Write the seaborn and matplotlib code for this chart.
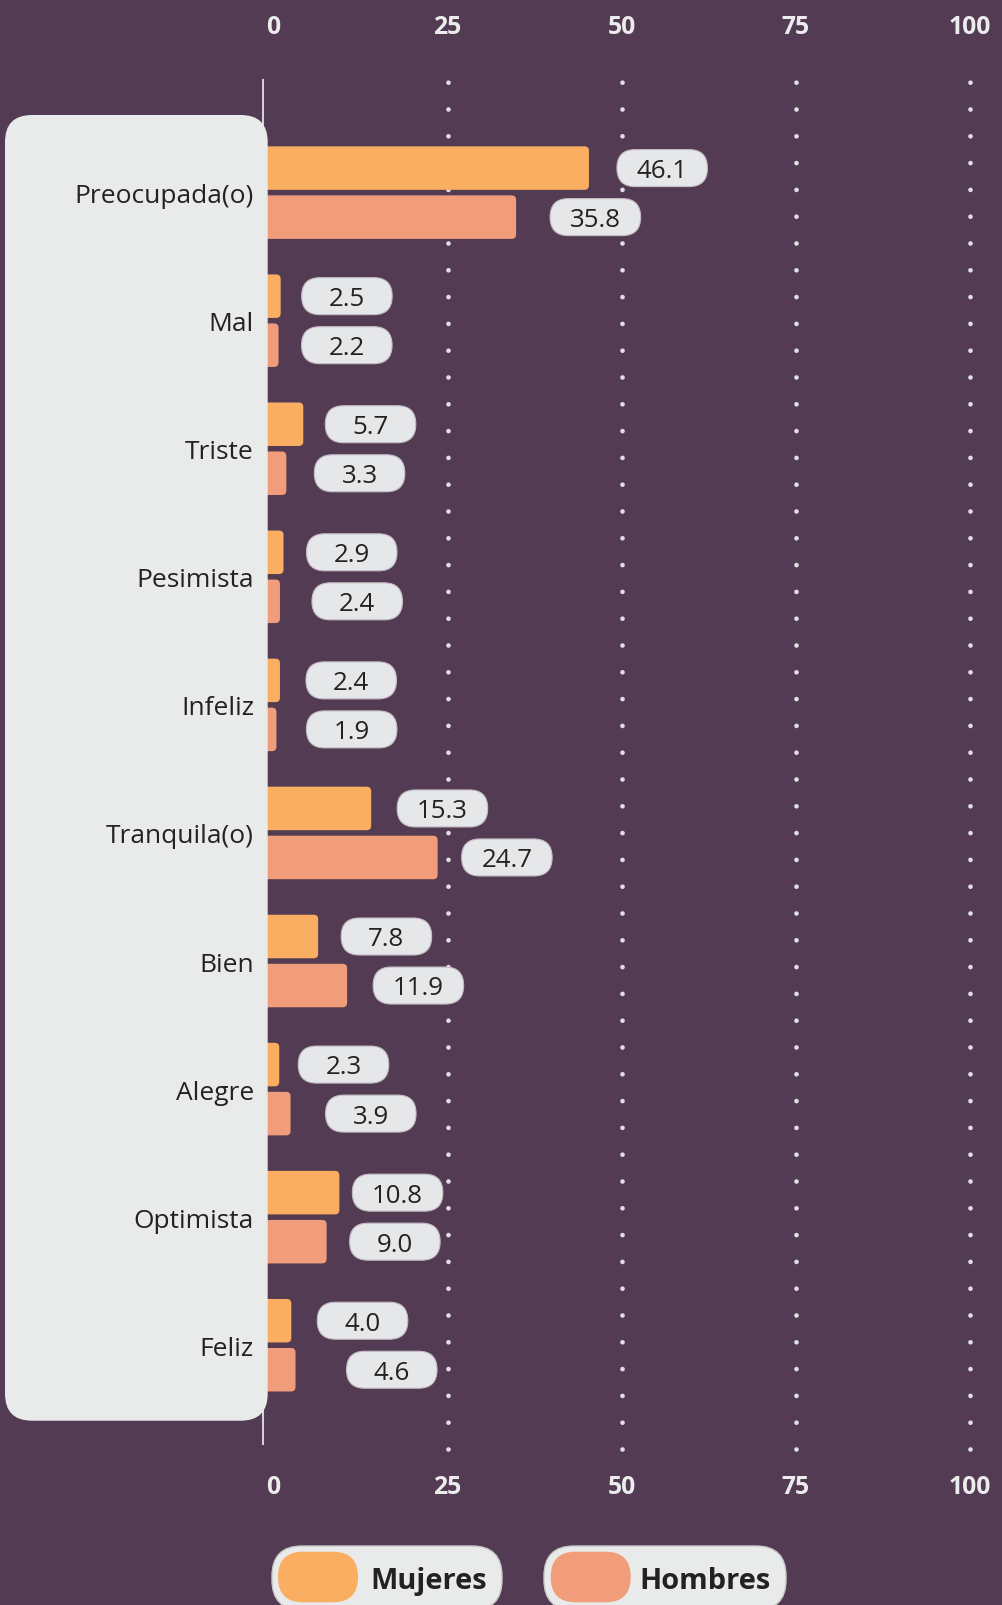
import matplotlib
matplotlib.use("Agg")
import matplotlib.pyplot as plt
import pandas as pd
import seaborn as sns
from matplotlib.patches import FancyBboxPatch
from matplotlib.transforms import Affine2D, ScaledTranslation, blended_transform_factory

# ---------------------------------------------------------------- data
categorias = ["Preocupada(o)", "Mal", "Triste", "Pesimista", "Infeliz",
              "Tranquila(o)", "Bien", "Alegre", "Optimista", "Feliz"]
mujeres = [46.1, 2.5, 5.7, 2.9, 2.4, 15.3, 7.8, 2.3, 10.8, 4.0]
hombres = [35.8, 2.2, 3.3, 2.4, 1.9, 24.7, 11.9, 3.9, 9.0, 4.6]
series = ["Mujeres", "Hombres"]
ticks = [0, 25, 50, 75, 100]

# gap (px) between the end of each bar and its value pill
gap_mujeres = [28, 21, 22, 23, 26, 26, 23, 19, 13, 26]
gap_hombres = [34, 23, 28, 32, 30, 24, 26, 35, 23, 51]

# ---------------------------------------------------------------- style
BG = "#533c53"
PANEL = "#e9ebea"
PILL = "#e6e7e9"
PILL_EDGE = "#c4bcc4"
ORANGE = "#faae62"
SALMON = "#f19d7b"
DOT = "#e2dfe2"
TICK_C = "#ececec"
TXT = "#222222"

W, H = 1002, 1606
X0_PX, X100_PX = 263.0, 970.0          # bar scale: value 0 and 100
PXU = (X100_PX - X0_PX) / 100.0          # px per value unit
T0_PX = 273.5                            # tick scale starts slightly right
ROW0, ROW_STEP = 193.6, 128.07           # category centres (px from top)
DOT_STEP_PX = 26.8                       # spacing of the grid dots
DOT_LW = 3.4                             # dot diameter in points

sns.set_theme(style="white")
plt.rcParams["font.family"] = ["Open Sans", "DejaVu Sans"]

fig = plt.figure(figsize=(W / 100, H / 100), dpi=100, facecolor=BG)
ax = fig.add_axes([0, 0, 1, 1])

df = pd.DataFrame({
    "categoria": categorias * 2,
    "sexo": [series[0]] * len(categorias) + [series[1]] * len(categorias),
    "valor": mujeres + hombres,
})

sns.barplot(data=df, x="valor", y="categoria", hue="sexo", order=categorias,
            hue_order=series, palette=[ORANGE, SALMON], orient="h",
            width=0.7656, gap=0.1126, saturation=1, errorbar=None,
            legend=False, linewidth=0, ax=ax, zorder=3)

ax.set_xlim(-X0_PX / PXU, (W - X0_PX) / PXU)
ax.set_ylim((H - ROW0) / ROW_STEP, -ROW0 / ROW_STEP)
ax.axis("off")

# transforms: pixels measured from the top-left corner of the figure
PX = Affine2D().scale(1, -1).translate(0, H)
XDATA_YPX = blended_transform_factory(ax.transData, PX)
ASPECT = PXU / ROW_STEP


def down(px):
    return ScaledTranslation(0, -px / 100.0, fig.dpi_scale_trans)


def tick_x(t):
    px = T0_PX + t * (X100_PX - T0_PX) / 100.0
    return (px - X0_PX) / PXU


# rounded bar ends
bar_groups = []
for cont in ax.containers:
    group = []
    for rect in cont.patches:
        x, y, w, h = rect.get_x(), rect.get_y(), rect.get_width(), rect.get_height()
        fc = rect.get_facecolor()
        rect.remove()
        rb = FancyBboxPatch((x, y), w, h,
                            boxstyle=f"round,pad=0,rounding_size={4.5 / PXU}",
                            mutation_aspect=ASPECT, fc=fc, ec="none", zorder=3)
        ax.add_patch(rb)
        group.append((w, y + h / 2))
    bar_groups.append(group)

# zero line and dotted grid (dots run upwards from the bottom end)
ax.plot([0, 0], [80, 1445.7], transform=XDATA_YPX, color="white", lw=1.1,
        solid_capstyle="butt", zorder=1)
dot_gap = DOT_STEP_PX / (DOT_LW * 100 / 72)
for t in ticks[1:]:
    ax.plot([tick_x(t)] * 2, [1450, 80], transform=XDATA_YPX, color=DOT,
            lw=DOT_LW, linestyle=(0, (0.001, dot_gap - 0.001)),
            dash_capstyle="round", zorder=1)

# tick labels top and bottom
for t in ticks:
    for base in (34.5, 1494.5):
        ax.text(tick_x(t), base, str(t), transform=XDATA_YPX, ha="center",
                va="baseline", fontsize=17.8, fontweight="bold", color=TICK_C)

# category panel
panel = FancyBboxPatch((5, 116), 262.7, 1305.7,
                       boxstyle="round,pad=0,rounding_size=27",
                       transform=PX, fc=PANEL, ec="none", zorder=4, clip_on=False)
ax.add_patch(panel)

for i, cat in enumerate(categorias):
    ax.text((254 - X0_PX) / PXU, i, cat, ha="right", va="baseline",
            transform=ax.transData + down(9.5), fontsize=19.0, color=TXT, zorder=5)

# value pills
PILL_W = 90.5 / PXU
PILL_HPX = 37.0
PILL_H = PILL_HPX / ROW_STEP
for group, gaps in zip(bar_groups, [gap_mujeres, gap_hombres]):
    for (val, yc), g in zip(group, gaps):
        left = val + g / PXU
        pill = FancyBboxPatch((left, yc - PILL_H / 2), PILL_W, PILL_H,
                              boxstyle=f"round,pad=0,rounding_size={(PILL_HPX / 2 - 0.1) / PXU}",
                              mutation_aspect=ASPECT, fc=PILL, ec=PILL_EDGE,
                              lw=0.8, zorder=6)
        ax.add_patch(pill)
        ax.text(left + PILL_W / 2, yc, f"{val:.1f}", ha="center", va="baseline",
                transform=ax.transData + down(8.9), fontsize=18.6,
                color=TXT, zorder=7)

# legend
legend_items = [(272, 230, 278, 370.7, ORANGE), (544, 242, 550.7, 639, SALMON)]
for name, (ox, ow, sx, tx, col) in zip(series, legend_items):
    ax.add_patch(FancyBboxPatch((ox, 1547), ow, 64,
                                boxstyle="round,pad=0,rounding_size=30",
                                transform=PX, fc=PANEL, ec="#c8c8c8", lw=1,
                                zorder=6, clip_on=False))
    ax.add_patch(FancyBboxPatch((sx, 1552.7), 80, 50.6,
                                boxstyle="round,pad=0,rounding_size=25",
                                transform=PX, fc=col, ec="none",
                                zorder=7, clip_on=False))
    ax.text(tx, 1589, name, transform=PX, ha="left", va="baseline",
            fontsize=20.9, fontweight="bold", color=TXT, zorder=8)

fig.savefig("out.png", dpi=100, facecolor=BG)
